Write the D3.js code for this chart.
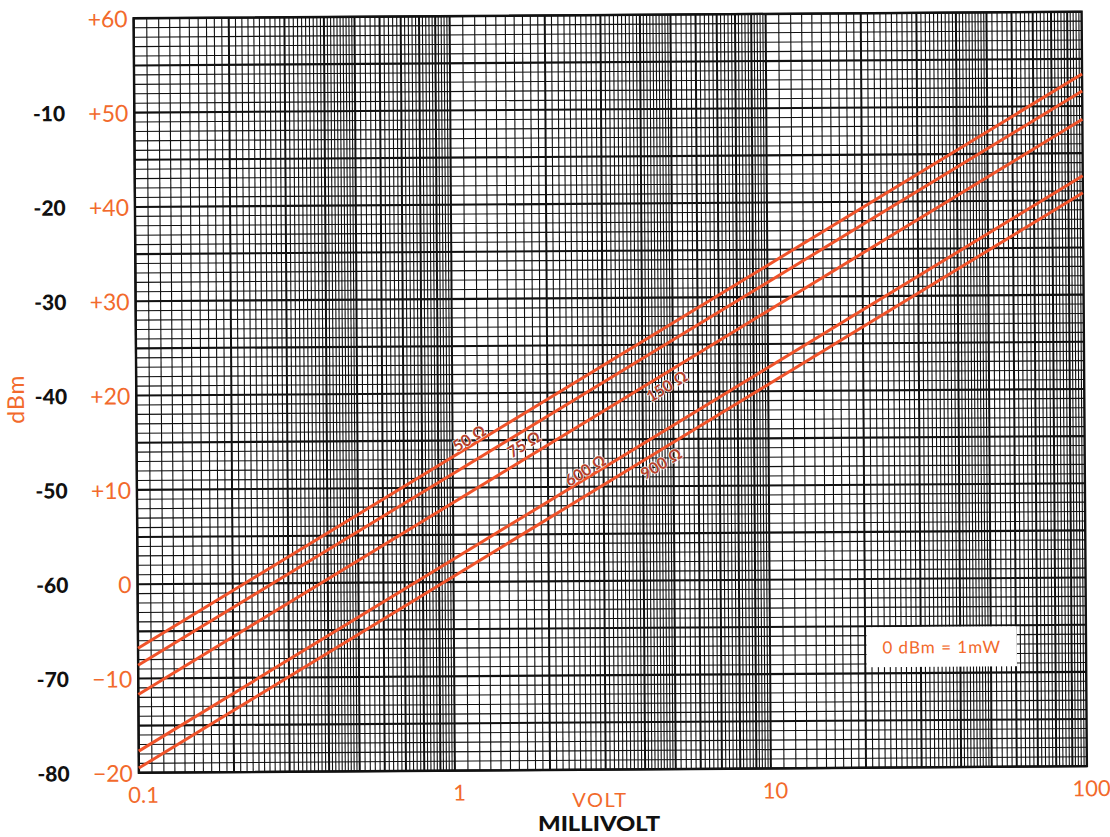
<!DOCTYPE html>
<html><head><meta charset="utf-8">
<script src="https://cdn.jsdelivr.net/npm/d3@7"></script>
<style>body{margin:0;background:#fff} svg{display:block}</style>
</head><body>
<svg id="chart" width="1110" height="837"></svg>
<script>
// Voltage axis (log) and power axis (linear dBm)
const voltTicks = [0.1, 1, 10, 100];
const voltTickLabels = ["0.1", "1", "10", "100"];
const dbmTicks = [60, 50, 40, 30, 20, 10, 0, -10, -20];
const dbmTickLabels = ["+60", "+50", "+40", "+30", "+20", "+10", "0", "\u221210", "\u221220"];
// Same grid read in millivolts: 60 dB lower
const mvTicks = [50, 40, 30, 20, 10, 0, -10, -20];
const mvTickLabels = ["-10", "-20", "-30", "-40", "-50", "-60", "-70", "-80"];

// Impedance lines: dBm at 0.1 V and at 100 V
const impedances = ["50 \u03A9", "75 \u03A9", "150 \u03A9", "600 \u03A9", "900 \u03A9"];
const lineVolts = [0.1, 100];
const dbmAtLow = [-6.8, -8.6, -11.7, -17.7, -19.5];
const dbmAtHigh = [53.4, 51.6, 48.6, 42.6, 40.8];

// Where each impedance label sits along its line
const labelVolt = [1.16, 1.61, 4.57, 2.70, 4.37];
const labelShift = [-8, 11, 11, -8, 11];

const ORANGE = "#f26a2c";
const LINE = "#f0532a";
const LABEL = "#b5402a";

const L = 136.25, R = 1084.25, T = 15, B = 769.5;
const svg = d3.select("#chart");
const g = svg.append("g").attr("transform", "rotate(-0.4,610,392)");

const x = d3.scaleLog().domain([0.1, 100]).range([L, R]);
const y = d3.scaleLinear().domain([-20, 60]).range([B, T]);

// ---- vertical grid (log paper subdivisions)
const vLines = [];
for (let e = -1; e < 2; e++) {
  const base = Math.pow(10, e);
  for (let k = 10; k < 50; k++) vLines.push({ v: base * k / 10 });
  for (let k = 25; k < 50; k++) vLines.push({ v: base * k / 5 });
}
vLines.forEach(d => {
  const m = d.v / Math.pow(10, Math.floor(Math.log10(d.v) + 1e-9));
  d.mid = Math.abs(m - Math.round(m)) < 1e-6;
});

g.append("g").selectAll("line").data(vLines).join("line")
  .attr("x1", d => x(d.v)).attr("x2", d => x(d.v))
  .attr("y1", T).attr("y2", B)
  .attr("stroke", "#111")
  .attr("stroke-width", d => d.mid ? 2 : 1.1);

// ---- horizontal grid, 1 dB steps
g.append("g").selectAll("line").data(d3.range(-20, 61)).join("line")
  .attr("x1", L).attr("x2", R)
  .attr("y1", d => y(d)).attr("y2", d => y(d))
  .attr("stroke", "#111")
  .attr("stroke-width", d => d % 5 === 0 ? 2.1 : 1.1);

// frame
g.append("rect").attr("x", L).attr("y", T).attr("width", R - L).attr("height", B - T)
  .attr("fill", "none").attr("stroke", "#111").attr("stroke-width", 2.4);

// ---- impedance lines
const lines = impedances.map((name, i) => ({
  name, pts: [[lineVolts[0], dbmAtLow[i]], [lineVolts[1], dbmAtHigh[i]]], i
}));
const lineGen = d3.line().x(p => x(p[0])).y(p => y(p[1]));
g.append("g").selectAll("path").data(lines).join("path")
  .attr("d", d => lineGen(d.pts))
  .attr("fill", "none").attr("stroke", LINE).attr("stroke-width", 3);

// labels along the lines
const interp = (d, v) => {
  const [p0, p1] = d.pts;
  const t = (Math.log10(v) - Math.log10(p0[0])) / (Math.log10(p1[0]) - Math.log10(p0[0]));
  return p0[1] + t * (p1[1] - p0[1]);
};
g.append("g").selectAll("text").data(lines).join("text")
  .attr("transform", d => {
    const v = labelVolt[d.i];
    const px = x(v), py = y(interp(d, v));
    const ang = Math.atan2(y(d.pts[1][1]) - y(d.pts[0][1]), x(d.pts[1][0]) - x(d.pts[0][0])) * 180 / Math.PI;
    return `translate(${px},${py}) rotate(${ang}) translate(0,${labelShift[d.i]})`;
  })
  .attr("text-anchor", "middle").attr("dominant-baseline", "central")
  .attr("font-family", "Lato, 'DejaVu Sans', sans-serif").attr("font-weight", 700)
  .attr("font-size", 16).attr("fill", LABEL)
  .attr("stroke", "#fff").attr("stroke-width", 1.5).attr("stroke-opacity", 0.8).attr("paint-order", "stroke")
  .text(d => d.name);

// ---- reference box
const bx0 = x(20.2), bx1 = x(60.4), by0 = y(-5.1), by1 = y(-9.35);
g.append("rect").attr("x", bx0).attr("y", by0).attr("width", bx1 - bx0).attr("height", by1 - by0)
  .attr("fill", "#fff");
g.append("text").attr("x", (bx0 + bx1) / 2).attr("y", (by0 + by1) / 2)
  .attr("text-anchor", "middle").attr("dominant-baseline", "central")
  .attr("font-family", "Lato, sans-serif").attr("font-size", 17).attr("fill", ORANGE)
  .attr("letter-spacing", 1)
  .text("0 dBm = 1mW");

// ---- axis labels
const yAxisOrange = d3.axisLeft(y).tickValues(dbmTicks).tickSize(0).tickPadding(6)
  .tickFormat((d, i) => dbmTickLabels[i]);
const ya = g.append("g").attr("transform", `translate(${L},0)`).call(yAxisOrange);
ya.select(".domain").remove();
ya.selectAll("text").attr("font-family", "Lato, sans-serif").attr("font-size", 23)
  .attr("fill", ORANGE).attr("dy", "0.36em");

const yAxisBlack = d3.axisLeft(y).tickValues(mvTicks).tickSize(0).tickPadding(0)
  .tickFormat((d, i) => mvTickLabels[i]);
const yb = g.append("g").attr("transform", `translate(67,0)`).call(yAxisBlack);
yb.select(".domain").remove();
yb.selectAll("text").attr("font-family", "Lato, sans-serif").attr("font-weight", 900)
  .attr("font-size", 21).attr("fill", "#111").attr("dy", "0.36em");

const xAxis = d3.axisBottom(x).tickValues(voltTicks).tickSize(0).tickPadding(0)
  .tickFormat((d, i) => voltTickLabels[i]);
const xa = g.append("g").attr("transform", `translate(4,${B})`).call(xAxis);
xa.select(".domain").remove();
xa.selectAll("text").attr("font-family", "Lato, sans-serif").attr("font-size", 22)
  .attr("fill", ORANGE).attr("dy", "0").attr("y", 30);

svg.append("text").attr("x", 600).attr("y", 807).attr("text-anchor", "middle")
  .attr("font-family", "Lato, sans-serif").attr("font-size", 20).attr("fill", ORANGE)
  .attr("letter-spacing", 1.5).text("VOLT");
svg.append("text").attr("x", 599).attr("y", 831).attr("text-anchor", "middle")
  .attr("font-family", "Lato, sans-serif").attr("font-weight", 900).attr("font-size", 20)
  .attr("fill", "#111").attr("textLength", 122).attr("lengthAdjust", "spacingAndGlyphs")
  .text("MILLIVOLT");

g.append("text").attr("transform", "translate(15,395) rotate(-90)")
  .attr("text-anchor", "middle").attr("dominant-baseline", "central")
  .attr("font-family", "Lato, sans-serif").attr("font-size", 23).attr("fill", ORANGE)
  .attr("letter-spacing", 1)
  .text("dBm");
</script>
</body></html>
